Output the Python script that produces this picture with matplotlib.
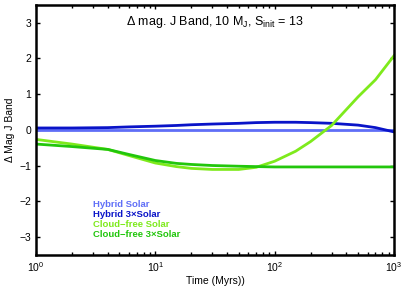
import numpy as np
import matplotlib.pyplot as plt

plt.rcParams['font.family'] = ['Liberation Sans', 'DejaVu Sans']
plt.rcParams['mathtext.fontset'] = 'custom'
plt.rcParams['mathtext.rm'] = 'Liberation Sans'
plt.rcParams['mathtext.it'] = 'Liberation Sans'

# Tiempo (Myrs) y curvas
t = [1, 2, 4, 6, 10, 15, 20, 30, 50, 70, 100, 150, 200, 300, 500, 700, 1000]
hybrid_solar = [0.0] * len(t)
hybrid_3x = [0.05, 0.05, 0.06, 0.08, 0.10, 0.12, 0.14, 0.16, 0.18, 0.20, 0.21, 0.21, 0.20, 0.18, 0.13, 0.06, -0.06]
cf_solar = [-0.27, -0.40, -0.55, -0.72, -0.93, -1.03, -1.08, -1.11, -1.11, -1.05, -0.88, -0.60, -0.33, 0.12, 0.92, 1.40, 2.07]
cf_3x = [-0.40, -0.47, -0.55, -0.69, -0.86, -0.94, -0.97, -1.00, -1.02, -1.03, -1.04, -1.04, -1.04, -1.04, -1.04, -1.04, -1.04]

names = ['Hybrid Solar', 'Hybrid 3\u00d7Solar', 'Cloud\u2212free Solar', 'Cloud\u2212free 3\u00d7Solar']
colors = ['#5f6ef7', '#0a14c8', '#7eea1c', '#22c60c']

fig = plt.figure(figsize=(4.07, 2.89), dpi=100)
ax = fig.add_axes([0.0885, 0.118, 0.8795, 0.866])

for ys, c in zip([hybrid_solar, hybrid_3x, cf_solar, cf_3x], colors):
    ax.plot(t, ys, color=c, lw=2)

ax.set_xscale('log')
ax.set_xlim(1, 1000)
ax.set_ylim(-3.5, 3.5)
ax.set_yticks([-3, -2, -1, 0, 1, 2, 3])
ax.set_yticklabels(['\u22123', '\u22122', '\u22121', '0', '1', '2', '3'])
ax.tick_params(which='both', direction='in', top=True, right=True, labelsize=7.5, width=1)
ax.tick_params(which='major', length=3)
ax.tick_params(which='minor', length=2)
for s in ax.spines.values():
    s.set_linewidth(1.8)

ax.text(0.5, 0.93, r'$\Delta$ mag. J Band, 10 M$_{J}$, S$_{init}$ = 13', transform=ax.transAxes,
        ha='center', va='center', fontsize=9)

for i, (n, c) in enumerate(zip(names, colors)):
    ax.text(0.16, 0.2 - i * 0.04, n, color=c, fontsize=6.8, fontweight='bold',
            transform=ax.transAxes, va='center')

ax.set_xlabel('Time (Myrs))', fontsize=7.5, labelpad=2)
ax.set_ylabel('\u0394 Mag J Band', fontsize=7.5, labelpad=3)

plt.savefig('out.png', dpi=100)
